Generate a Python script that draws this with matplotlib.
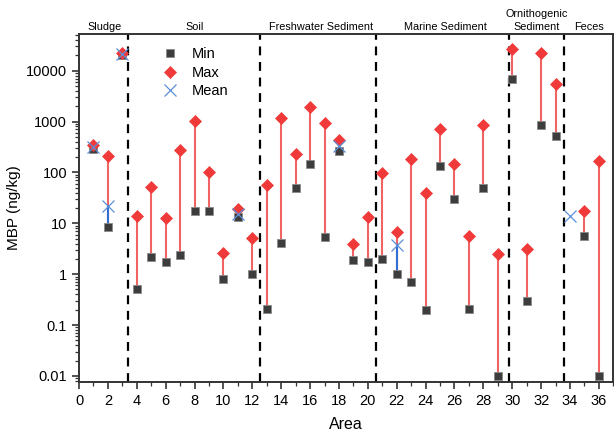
import numpy as np
import matplotlib
matplotlib.use('Agg')
import matplotlib.pyplot as plt
from matplotlib.ticker import FixedLocator, FuncFormatter, MultipleLocator, LogLocator, NullFormatter

plt.rcParams['font.family'] = ['Liberation Sans', 'DejaVu Sans']

areas = list(range(1, 37))
nan = np.nan
min_vals = [295, 8.5, 20500, 0.51, 2.19, 1.75, 2.33, 17.7, 17.7, 0.81, 13.3, 1.02,
            0.203, 4.05, 49.4, 148, 5.48, 258, 1.91, 1.75, 1.97, 0.99, 0.71, 0.194,
            131, 30.5, 0.203, 49.4, 0.01, 6780, 0.296, 873, 518, nan, 5.74, 0.01]
max_vals = [340, 206, 22000, 13.7, 51.7, 12.8, 279, 1047, 104, 2.55, 19.4, 5.08,
            57.4, 1200, 229, 1915, 955, 443, 4.0, 13.1, 97, 6.66, 183, 39.5,
            710, 148, 5.74, 849, 2.47, 26300, 3.09, 22500, 5560, nan, 17.2, 168]
mean_areas = [1, 2, 3, 11, 18, 22, 34]
mean_vals = [310, 21.5, 21000, 15.5, 330, 3.77, 14.2]

# section boundaries and labels
dividers = [3.4, 12.5, 20.6, 29.8, 33.6]
sections = ['Sludge', 'Soil', 'Freshwater Sediment', 'Marine Sediment', 'Ornithogenic\nSediment', 'Feces']
section_pos = [1.75, 8.0, 16.75, 25.4, 31.7, 35.3]

fig = plt.figure(figsize=(6.14, 4.30), dpi=100)
ax = fig.add_axes([0.1287, 0.1123, 0.8702, 0.8079])

red = '#f03a3a'
redline = '#f06464'
blue = '#2f6fd6'

x = np.array(areas, dtype=float)
mn = np.array(min_vals, dtype=float)
mx = np.array(max_vals, dtype=float)
ok = ~np.isnan(mn)
ax.vlines(x[ok], mn[ok], mx[ok], color=redline, lw=1.5, zorder=2)

# blue segments from min up to mean
for a, m in zip(mean_areas, mean_vals):
    lo = min_vals[a - 1]
    if not np.isnan(lo):
        ax.plot([a, a], [lo, m], color=blue, lw=1.5, zorder=3)

for xv in dividers:
    ax.axvline(xv, color='black', ls=(0, (4, 3)), lw=1.6, zorder=1)

ax.plot(x, mn, ls='none', marker='s', ms=6.3, mfc='#3d3d3d', mec='#8a8a8a', mew=0.6, zorder=4, label='Min')
ax.plot(x, mx, ls='none', marker='D', ms=6.5, mfc=red, mec=red, mew=0.5, zorder=5, label='Max')
ax.plot(mean_areas, mean_vals, ls='none', marker='x', ms=8, mec='#5b8fd8', mew=0.9, zorder=6, label='Mean')

ax.set_yscale('log')
ax.set_ylim(0.0077, 51800)
ax.set_xlim(0, 37)

ax.xaxis.set_major_locator(MultipleLocator(2))
ax.xaxis.set_minor_locator(MultipleLocator(1))
ax.yaxis.set_major_locator(FixedLocator([0.01, 0.1, 1, 10, 100, 1000, 10000]))
ax.yaxis.set_major_formatter(FuncFormatter(lambda v, p: '{:g}'.format(v)))
ax.yaxis.set_minor_locator(LogLocator(base=10, subs=np.arange(2, 10), numticks=20))
ax.yaxis.set_minor_formatter(NullFormatter())

ax.tick_params(axis='both', which='major', direction='out', length=5, width=1.2, labelsize=10.5, color='#333333')
ax.tick_params(axis='both', which='minor', direction='out', length=3, width=0.9, color='#333333')
for s in ax.spines.values():
    s.set_linewidth(1.4)
    s.set_color('#333333')

ax.set_xlabel('Area', fontsize=11.5, labelpad=6.5)
ax.set_ylabel('MBP (ng/kg)', fontsize=11)

for lab, pos in zip(sections, section_pos):
    ax.text(pos, 1.008, lab, transform=ax.get_xaxis_transform(), ha='center', va='bottom',
            fontsize=7.8, linespacing=1.3)

ax.legend(loc='upper left', bbox_to_anchor=(0.13, 1.0), frameon=False, fontsize=10.5,
          handletextpad=0.9, labelspacing=0.3, handlelength=1.2)

fig.savefig('out.png', dpi=100)
